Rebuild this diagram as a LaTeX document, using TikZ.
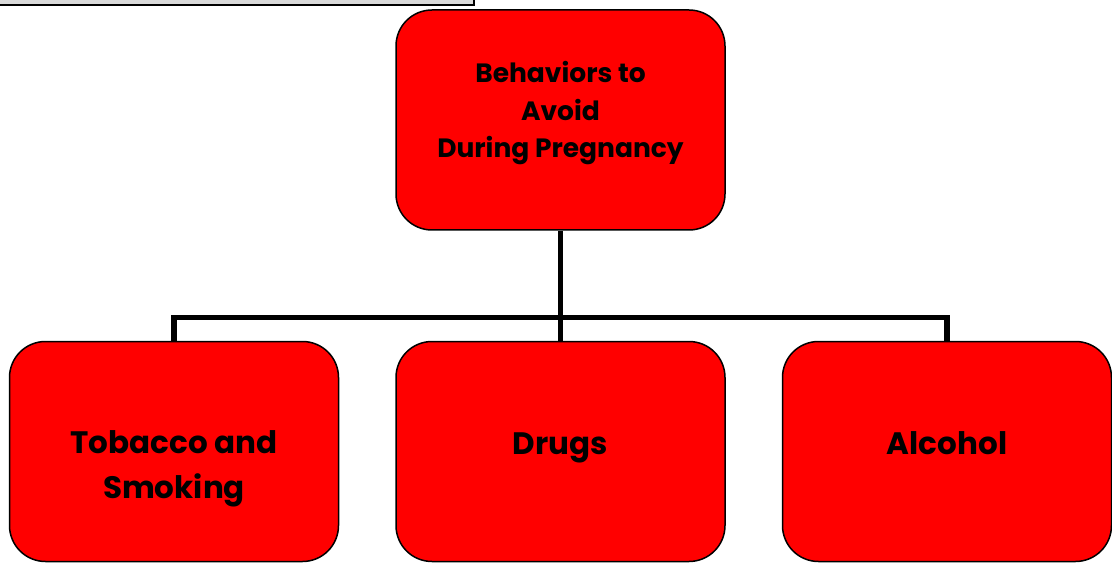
\documentclass[tikz,border=0pt]{standalone}
\usepackage{fontspec}
\setmainfont{Poppins}
\usetikzlibrary{positioning, backgrounds}

\begin{document}
\begin{tikzpicture}[
  x=1pt, y=-1pt,
  box/.style = {
    draw, line width=1.5pt, rounded corners=36pt, fill=red,
    minimum width=329pt, minimum height=220pt, inner sep=0pt
  },
  toptext/.style = {font=\fontsize{26.5}{37.5}\selectfont\bfseries, align=center, anchor=base},
  boxtext/.style = {font=\fontsize{31}{45}\selectfont\bfseries, align=center, anchor=base},
  link/.style    = {line width=5.5pt},
  node distance  = 110pt and 56pt
]
\useasboundingbox (0,0) rectangle (1112,564);
\clip (0,0) rectangle (1112,564);

% leftover title bar at the top edge
\draw[line width=1.8pt, fill=gray!30] (-5,-20) rectangle (474,5);

\node[box] (root) at (560.5,120) {};
\node[toptext] (rootT) at ([yshift=-38pt]root.center)
  {Behaviors to\\Avoid\\During Pregnancy};

\node[box, below=110pt of root]  (drugs)   {};
\node[box, left=56pt of drugs]   (tobacco) {};
\node[box, right=56pt of drugs]  (alcohol) {};

\node[boxtext] (tobaccoT) at ([yshift=-47pt]tobacco.center) {Tobacco and\\Smoking};
\node[boxtext] (drugsT)   at ([yshift=-3pt]drugs.center)   {Drugs};
\node[boxtext] (alcoholT) at ([yshift=-3pt]alcohol.center) {Alcohol};

\begin{scope}[on background layer]
  \draw[link] (root.south) -- (drugs.north);
  \draw[link] (tobacco.north) |- ([yshift=23pt]drugs.north) -| (alcohol.north);
\end{scope}

\end{tikzpicture}
\end{document}
